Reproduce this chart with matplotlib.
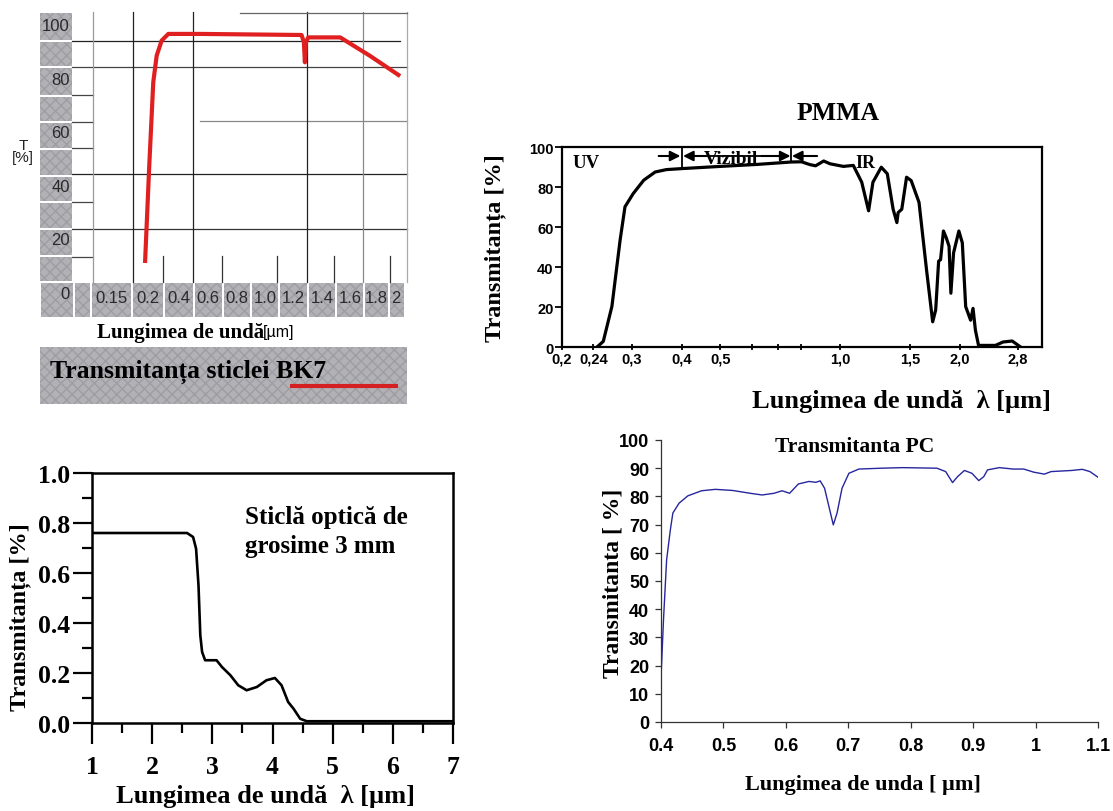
import numpy as np
import matplotlib
matplotlib.use('Agg')
import matplotlib.pyplot as plt
from matplotlib.patches import Rectangle

# ---------------- data ----------------

# BK7 glass (top left), wavelength [um] vs T [%]
bk7_wl = [0.196, 0.208, 0.234, 0.256, 0.288, 0.331, 0.542, 1.259, 1.275, 1.282,
          1.289, 1.305, 1.530, 1.751, 2.024]
bk7_T = [11.6, 47.0, 78.3, 88.2, 93.8, 96.3, 96.3, 95.9, 93.2, 85.7,
         93.2, 95.0, 95.0, 88.2, 81.0]
bk7_xticks = [0.15, 0.2, 0.4, 0.6, 0.8, 1.0, 1.2, 1.4, 1.6, 1.8, 2.0]
bk7_xlabels = ['0.15', '0.2', '0.4', '0.6', '0.8', '1.0', '1.2', '1.4', '1.6', '1.8', '2']
bk7_yticks = [0, 20, 40, 60, 80, 100]

# PMMA (top right), log wavelength axis
pmma_wl = [0.245, 0.254, 0.267, 0.280, 0.288, 0.302, 0.321, 0.343, 0.366, 0.400,
           0.500, 0.620, 0.754, 0.800, 0.840, 0.868, 0.910, 0.944, 1.020, 1.080,
           1.134, 1.180, 1.210, 1.270, 1.315, 1.360, 1.390, 1.400, 1.430, 1.470,
           1.510, 1.580, 1.650, 1.710, 1.740, 1.770, 1.790, 1.820, 1.850, 1.880,
           1.900, 1.930, 1.990, 2.030, 2.070, 2.130, 2.160, 2.190, 2.230, 2.460,
           2.570, 2.710, 2.830]
pmma_T = [0.0, 2.8, 20.3, 53.5, 70.1, 76.7, 83.4, 87.5, 88.7, 89.2,
          90.3, 91.3, 92.5, 92.6, 91.2, 90.6, 93.0, 91.6, 90.3, 90.8,
          82.4, 68.1, 82.4, 89.9, 86.6, 68.9, 62.2, 67.2, 68.9, 84.9,
          83.2, 72.3, 38.7, 12.6, 18.5, 42.9, 43.7, 58.0, 54.6, 50.4,
          26.9, 47.1, 58.0, 52.1, 20.2, 13.4, 19.3, 8.4, 0.8, 0.8,
          2.5, 3.0, 0.3]
pmma_xticks = [0.2, 0.24, 0.3, 0.4, 0.5, 0.6, 0.7, 0.8, 1.0, 1.5, 2.0, 2.8]
pmma_xlabels = ['0,2', '0,24', '0,3', '0,4', '0,5', '', '', '', '1,0', '1,5', '2,0', '2,8']
pmma_yticks = [0, 20, 40, 60, 80, 100]

# optical glass 3 mm (bottom left)
glass_wl = [1.0, 2.58, 2.68, 2.73, 2.77, 2.80, 2.83, 2.88, 3.07, 3.16, 3.30,
            3.43, 3.57, 3.74, 3.90, 4.04, 4.15, 4.26, 4.35, 4.46, 4.57, 7.0]
glass_T = [0.76, 0.76, 0.744, 0.697, 0.551, 0.351, 0.284, 0.251, 0.251, 0.224, 0.191,
           0.151, 0.131, 0.144, 0.171, 0.180, 0.151, 0.084, 0.057, 0.017, 0.007, 0.007]

# polycarbonate (bottom right)
pc_wl = [0.400, 0.404, 0.409, 0.415, 0.419, 0.429, 0.443, 0.465, 0.487, 0.515,
         0.543, 0.562, 0.581, 0.594, 0.606, 0.620, 0.637, 0.648, 0.655, 0.662,
         0.669, 0.676, 0.682, 0.690, 0.701, 0.717, 0.753, 0.787, 0.842, 0.856,
         0.867, 0.875, 0.886, 0.898, 0.909, 0.917, 0.923, 0.942, 0.964, 0.981,
         0.997, 1.014, 1.025, 1.058, 1.075, 1.087, 1.100]
pc_T = [15.7, 36.3, 57.5, 68.2, 74.1, 77.6, 80.2, 82.0, 82.5, 82.1,
        81.1, 80.5, 81.1, 82.0, 81.1, 84.4, 85.3, 85.0, 85.5, 82.9,
        76.4, 69.9, 74.1, 82.9, 88.2, 89.7, 90.0, 90.2, 90.0, 88.8,
        84.9, 87.0, 89.2, 88.2, 85.6, 87.0, 89.4, 90.2, 89.7, 89.7,
        88.6, 87.9, 88.8, 89.2, 89.6, 88.8, 86.8]
pc_xticks = [0.4, 0.5, 0.6, 0.7, 0.8, 0.9, 1.0, 1.1]
pc_xlabels = ['0.4', '0.5', '0.6', '0.7', '0.8', '0.9', '1', '1.1']
pc_yticks = list(range(0, 101, 10))

# ---------------- layout helpers ----------------
W, H = 1113, 812
SERIF = 'Liberation Serif'
SANS = 'Liberation Sans'

fig = plt.figure(figsize=(W / 100, H / 100), dpi=100)


def box(l, t, r, b):
    """pixel box (left, top, right, bottom) -> figure fraction rect"""
    return [l / W, 1 - b / H, (r - l) / W, (b - t) / H]


def tick_font(ax, family, size, weight='normal', color='black'):
    for lbl in ax.get_xticklabels() + ax.get_yticklabels():
        lbl.set_fontfamily(family)
        lbl.set_fontsize(size)
        lbl.set_fontweight(weight)
        lbl.set_color(color)


# background layer in pixel coordinates (scan decorations, free text)
bg = fig.add_axes([0, 0, 1, 1], zorder=0)
bg.set_xlim(0, W)
bg.set_ylim(H, 0)
bg.axis('off')


def gray_cell(x0, y0, x1, y1):
    bg.add_patch(Rectangle((x0, y0), x1 - x0, y1 - y0, facecolor='#b1b1b6',
                           edgecolor='#9d9da3', hatch='xxx', linewidth=0))


# ---------------- BK7 (scanned catalogue look) ----------------
col_rows = [13, 42, 68, 97, 123, 150, 177, 203, 230, 257, 283]
for y0, y1 in zip(col_rows[:-1], col_rows[1:]):
    gray_cell(40, y0 + 1, 72, y1 - 1)
strip_cols = [40, 74, 91, 132, 164, 194, 223, 251, 279, 308, 336, 364, 389, 405]
for x0, x1 in zip(strip_cols[:-1], strip_cols[1:]):
    gray_cell(x0 + 1, 284, x1 - 1, 318)
gray_cell(40, 348, 407, 405)

# grid of the scan
for y, x0, x1, c in [(42, 72, 400, '#222222'), (68, 72, 407, '#444444'), (122, 200, 407, '#888888'),
                     (175, 72, 407, '#222222'), (230, 72, 407, '#333333')]:
    bg.plot([x0, x1], [y, y], color=c, lw=0.9)
for y in [96, 123, 149, 203, 258]:
    bg.plot([72, 93], [y, y], color='#444444', lw=0.9)
for x, c in [(93, '#999999'), (133, '#222222'), (193, '#222222'), (307, '#222222'),
             (363, '#888888'), (407, '#aaaaaa')]:
    bg.plot([x, x], [13, 283], color=c, lw=0.9)
for x in [163, 222, 277, 334, 390]:
    bg.plot([x, x], [257, 283], color='#333333', lw=0.9)
bg.plot([240, 407], [14, 14], color='#666666', lw=0.9)

bg.text(23, 152, 'T\n[%]', ha='center', va='center', fontsize=11, family=SANS,
        color='#222222', linespacing=0.9)
bg.text(97, 333, 'Lungimea de undă', ha='left', va='center', fontsize=15,
        family=SERIF, weight='bold')
bg.text(263, 333, '[µm]', ha='left', va='center', fontsize=11.5, family=SANS)
bg.text(50, 378, 'Transmitanța sticlei BK7', ha='left', va='baseline', fontsize=18.5,
        family=SERIF, weight='bold')
bg.plot([290, 398], [387, 387], color='#d42020', lw=3, solid_capstyle='butt')

# non-uniform wavelength axis of the scan: tick label centres in pixels
bk7_pos = [112, 148, 179, 208, 237, 265, 293, 322, 350, 376, 396]
wl_k = [bk7_xticks[0] - (bk7_xticks[1] - bk7_xticks[0]) * 3] + bk7_xticks + [bk7_xticks[-1] + 1.0]
pos_k = [bk7_pos[0] - (bk7_pos[1] - bk7_pos[0]) * 3] + bk7_pos + \
        [bk7_pos[-1] + (bk7_pos[-1] - bk7_pos[-2]) / (bk7_xticks[-1] - bk7_xticks[-2])]


def bk7_fwd(v):
    return np.interp(v, wl_k, pos_k)


def bk7_inv(p):
    return np.interp(p, pos_k, wl_k)


ax1 = fig.add_axes(box(72, 13, 407, 318), zorder=2)
ax1.set_facecolor('none')
ax1.set_xscale('function', functions=(bk7_fwd, bk7_inv))
ax1.set_xlim(bk7_inv(72), bk7_inv(407))
ax1.set_ylim((293 - 318) / 2.68, (293 - 13) / 2.68)
for s in ax1.spines.values():
    s.set_visible(False)
ax1.plot(bk7_wl, bk7_T, color='#e02020', lw=3, solid_joinstyle='round')
ax1.set_xticks(bk7_xticks, bk7_xlabels)
ax1.set_yticks(bk7_yticks, [str(v) for v in bk7_yticks])
ax1.xaxis.set_minor_locator(matplotlib.ticker.NullLocator())
ax1.tick_params(axis='x', length=0, pad=-19.5)
ax1.tick_params(axis='y', length=0, pad=1.5)
tick_font(ax1, SANS, 12, color='#2a2a2a')

# ---------------- PMMA ----------------
ax2 = fig.add_axes(box(562, 148, 1042, 348), zorder=2)
ax2.set_facecolor('none')
ax2.set_xscale('log')
ax2.set_xlim(0.2, 3.22)
ax2.set_ylim(0, 100)
ax2.plot(pmma_wl, pmma_T, color='black', lw=2.3, solid_joinstyle='round')
ax2.set_xticks(pmma_xticks, pmma_xlabels)
ax2.xaxis.set_minor_locator(matplotlib.ticker.NullLocator())
ax2.set_yticks(pmma_yticks, [str(v) for v in pmma_yticks])
for s in ax2.spines.values():
    s.set_linewidth(1.6)
ax2.tick_params(axis='x', direction='inout', length=5, width=1.3, pad=1)
ax2.tick_params(axis='y', direction='out', length=5, width=1.3, pad=1)
tick_font(ax2, SANS, 10.5, weight='bold')

# visible range markers
ax2.plot([0.4, 0.4], [100, 89.2], color='black', lw=1.3)
ax2.plot([0.754, 0.754], [100, 92.5], color='black', lw=1.3)
ax2.plot([0.46, 0.634], [95.5, 95.5], color='black', lw=1.3)
arrow = dict(arrowstyle='-|>', color='black', lw=1.5, mutation_scale=15, shrinkA=0, shrinkB=0)
for x0, x1 in [(0.35, 0.397), (0.46, 0.403), (0.634, 0.751), (0.876, 0.757)]:
    ax2.annotate('', xy=(x1, 95.5), xytext=(x0, 95.5), arrowprops=arrow)
ax2.text(0.213, 92.5, 'UV', ha='left', va='center', fontsize=13.5, family=SERIF, weight='bold')
ax2.text(0.532, 94.0, 'Vizibil', ha='center', va='center', fontsize=14, family=SERIF, weight='bold')
ax2.text(1.09, 92.4, 'IR', ha='left', va='center', fontsize=13, family=SERIF, weight='bold')

bg.text(838, 113, 'PMMA', ha='center', va='center', fontsize=18.5, family=SERIF, weight='bold')
bg.text(495, 248, 'Transmitanța [%]', ha='center', va='center', rotation=90,
        fontsize=17.5, family=SERIF, weight='bold')
bg.text(902, 402, 'Lungimea de undă  λ [µm]', ha='center', va='center',
        fontsize=19, family=SERIF, weight='bold')

# ---------------- optical glass 3 mm ----------------
ax3 = fig.add_axes(box(92, 474, 453, 724), zorder=2)
ax3.set_facecolor('none')
ax3.set_xlim(1, 7)
ax3.set_ylim(0, 1)
ax3.plot(glass_wl, glass_T, color='black', lw=1.9, solid_joinstyle='round')
ax3.set_xticks(range(1, 8))
ax3.set_xticks(np.arange(1.5, 7, 1.0), minor=True)
ax3.set_yticks(np.arange(0, 1.01, 0.2), [f'{v:.1f}' for v in np.arange(0, 1.01, 0.2)])
ax3.set_yticks(np.arange(0.1, 1.0, 0.2), minor=True)
for s in ax3.spines.values():
    s.set_linewidth(1.8)
ax3.tick_params(which='major', direction='out', width=1.6)
ax3.tick_params(which='minor', direction='out', width=1.6, length=7)
ax3.tick_params(axis='x', which='major', length=15, pad=8)
ax3.tick_params(axis='y', which='major', length=13.5, pad=2)
tick_font(ax3, SERIF, 18.5, weight='bold')

bg.text(245, 532, 'Sticlă optică de\ngrosime 3 mm', ha='left', va='center', fontsize=18,
        family=SERIF, weight='bold', linespacing=1.3)
bg.text(20, 617, 'Transmitanța [%]', ha='center', va='center', rotation=90,
        fontsize=17.5, family=SERIF, weight='bold')
bg.text(265, 797, 'Lungimea de undă  λ [µm]', ha='center', va='center',
        fontsize=19, family=SERIF, weight='bold')

# ---------------- polycarbonate ----------------
ax4 = fig.add_axes(box(661, 441, 1098, 723), zorder=2)
ax4.set_facecolor('none')
ax4.set_xlim(0.4, 1.1)
ax4.set_ylim(0, 100)
ax4.plot(pc_wl, pc_T, color='#26269e', lw=1.0)
ax4.set_xticks(pc_xticks, pc_xlabels)
ax4.set_yticks(pc_yticks, [str(v) for v in pc_yticks])
ax4.spines['top'].set_visible(False)
ax4.spines['right'].set_visible(False)
for side in ['left', 'bottom']:
    ax4.spines[side].set_linewidth(0.9)
    ax4.spines[side].set_color('#333333')
ax4.tick_params(direction='out', length=4.5, width=0.9, color='#333333', pad=4)
ax4.tick_params(axis='x', pad=6)
tick_font(ax4, SANS, 13, weight='bold')

bg.text(855, 447, 'Transmitanta PC', ha='center', va='center', fontsize=15.5,
        family=SERIF, weight='bold')
bg.text(613, 583, 'Transmitanta [ %]', ha='center', va='center', rotation=90,
        fontsize=17, family=SERIF, weight='bold')
bg.text(863, 785, 'Lungimea de unda [ µm]', ha='center', va='center', fontsize=16,
        family=SERIF, weight='bold')

fig.savefig('out.png', dpi=100)
